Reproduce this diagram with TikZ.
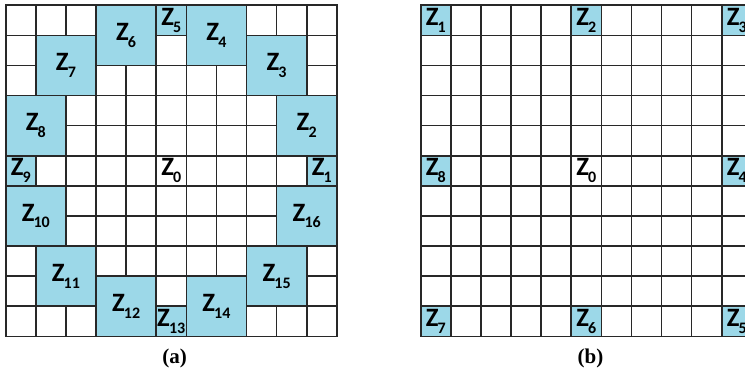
\documentclass[tikz,border=0pt]{standalone}
\usepackage{fontspec}
\setmainfont{Liberation Serif}
\newfontfamily\calib{Carlito}[BoldFont={Carlito Bold}]
\definecolor{zblue}{RGB}{156,216,232}
\definecolor{gridc}{RGB}{40,40,40}
\newcommand{\Zl}[1]{{\calib\bfseries\fontsize{26.5}{26.5}\selectfont Z\kern-0.8pt\raisebox{-6.8pt}{\fontsize{16}{16}\selectfont #1}}}
\begin{document}
\begin{tikzpicture}[x=1pt,y=-1pt,
  cellbox/.style={draw=gridc, line width=1.6pt, fill=white, minimum size=30.1pt, inner sep=0pt, outer sep=0pt},
  zbox/.style={draw=gridc, line width=1.6pt, fill=zblue, inner sep=0pt, outer sep=0pt},
  one/.style={zbox, minimum size=30.1pt},
  two/.style={zbox, minimum size=60.2pt},
  plain/.style={inner sep=0pt},
  captext/.style={font=\fontsize{21}{21}\selectfont\bfseries}]
\useasboundingbox (0,0) rectangle (745,373);
\clip (0,0) rectangle (745,373);
% ---------- left grid (a) ----------
\foreach \r in {0,...,10}{
  \foreach \c in {0,...,10}{
    \node[cellbox] (a-\r-\c) at ({5.7+(\c+0.5)*30.1},{5.2+(\r+0.5)*30.1}) {};
  }
}
% 2x2 blocks
\node[two] (az6)  at ({5.7+4*30.1},{5.2+1*30.1}) {\Zl{6}};
\node[two] (az4)  at ({5.7+7*30.1},{5.2+1*30.1}) {\Zl{4}};
\node[two] (az7)  at ({5.7+2*30.1},{5.2+2*30.1}) {\Zl{7}};
\node[two] (az3)  at ({5.7+9*30.1},{5.2+2*30.1}) {\Zl{3}};
\node[two] (az8)  at ({5.7+1*30.1},{5.2+4*30.1}) {\Zl{8}};
\node[two] (az2)  at ({5.7+10*30.1},{5.2+4*30.1}) {\Zl{2}};
\node[two] (az10) at ({5.7+1*30.1},{5.2+7*30.1}) {\Zl{10}};
\node[two] (az16) at ({5.7+10*30.1},{5.2+7*30.1}) {\Zl{16}};
\node[two] (az11) at ({5.7+2*30.1},{5.2+9*30.1}) {\Zl{11}};
\node[two] (az15) at ({5.7+9*30.1},{5.2+9*30.1}) {\Zl{15}};
\node[two] (az12) at ({5.7+4*30.1},{5.2+10*30.1}) {\Zl{12}};
\node[two] (az14) at ({5.7+7*30.1},{5.2+10*30.1}) {\Zl{14}};
% 1x1 blocks
\node[one] (az5)  at (a-0-5)  {\Zl{5}};
\node[one] (az9)  at (a-5-0)  {\Zl{9}};
\node[one] (az1)  at (a-5-10) {\Zl{1}};
\node[one] (az13) at (a-10-5) {\Zl{13}};
\node[plain] (az0) at (a-5-5) {\Zl{0}};
\node[captext] (capa) at (174.5,358.5) {(a)};
% ---------- right grid (b) ----------
\foreach \r in {0,...,10}{
  \foreach \c in {0,...,10}{
    \node[cellbox] (b-\r-\c) at ({420.7+(\c+0.5)*30.1},{5.2+(\r+0.5)*30.1}) {};
  }
}
\node[one] (bz1) at (b-0-0)   {\Zl{1}};
\node[one] (bz2) at (b-0-5)   {\Zl{2}};
\node[one] (bz3) at (b-0-10)  {\Zl{3}};
\node[one] (bz8) at (b-5-0)   {\Zl{8}};
\node[one] (bz4) at (b-5-10)  {\Zl{4}};
\node[one] (bz7) at (b-10-0)  {\Zl{7}};
\node[one] (bz6) at (b-10-5)  {\Zl{6}};
\node[one] (bz5) at (b-10-10) {\Zl{5}};
\node[plain] (bz0) at (b-5-5) {\Zl{0}};
\node[captext] (capb) at (590.5,358.5) {(b)};
\end{tikzpicture}
\end{document}
